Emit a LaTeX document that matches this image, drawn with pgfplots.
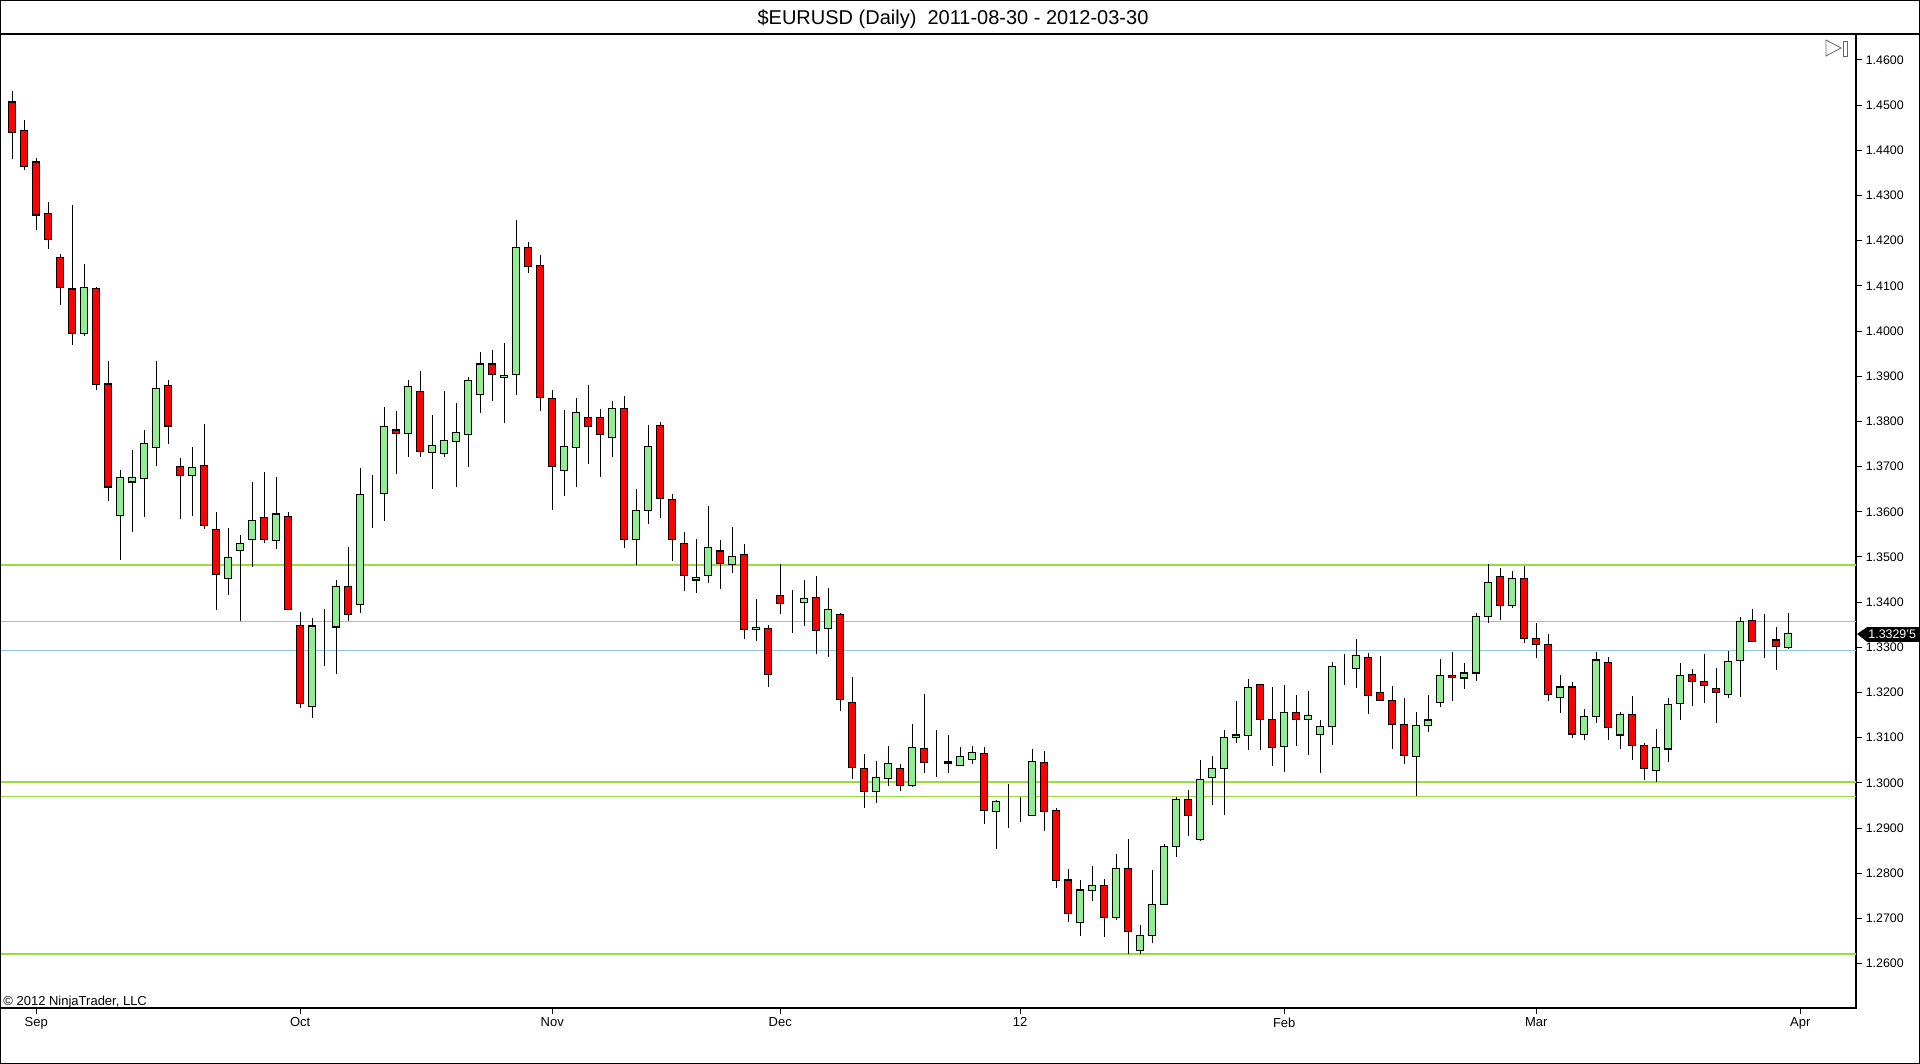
\documentclass[border=0pt]{standalone}
\usepackage{fontspec}
\setmainfont{Liberation Sans}
\usepackage{pgfplots}
\usepackage{pgfplotstable}
\pgfplotsset{compat=1.18}
\definecolor{upgreen}{RGB}{144,238,144}
\definecolor{dnred}{RGB}{255,0,0}
\definecolor{lvlgreen}{RGB}{154,220,60}
\definecolor{lvlblue}{RGB}{140,200,225}
\pgfplotstableread{
i O H L C
0 1.4507 1.4531 1.4380 1.4439
1 1.4443 1.4467 1.4356 1.4365
2 1.4374 1.4384 1.4224 1.4257
3 1.4260 1.4286 1.4182 1.4202
4 1.4163 1.4171 1.4058 1.4096
5 1.4093 1.4279 1.3969 1.3995
6 1.3995 1.4149 1.3989 1.4096
7 1.4095 1.4097 1.3870 1.3881
8 1.3883 1.3934 1.3625 1.3655
9 1.3591 1.3692 1.3494 1.3676
10 1.3666 1.3737 1.3556 1.3676
11 1.3674 1.3781 1.3588 1.3751
12 1.3743 1.3934 1.3701 1.3873
13 1.3880 1.3892 1.3751 1.3790
14 1.3701 1.3719 1.3584 1.3681
15 1.3681 1.3744 1.3591 1.3698
16 1.3703 1.3795 1.3561 1.3569
17 1.3560 1.3600 1.3382 1.3462
18 1.3453 1.3565 1.3415 1.3498
19 1.3515 1.3549 1.3359 1.3530
20 1.3538 1.3666 1.3478 1.3580
21 1.3588 1.3689 1.3530 1.3539
22 1.3536 1.3677 1.3517 1.3595
23 1.3590 1.3599 1.3382 1.3384
24 1.3349 1.3379 1.3166 1.3175
25 1.3169 1.3366 1.3143 1.3347
26 1.3344 1.3384 1.3258 1.3344
27 1.3345 1.3449 1.3241 1.3435
28 1.3434 1.3522 1.3359 1.3373
29 1.3394 1.3697 1.3375 1.3639
30 1.3637 1.3681 1.3563 1.3637
31 1.3641 1.3831 1.3579 1.3789
32 1.3781 1.3824 1.3683 1.3774
33 1.3774 1.3892 1.3721 1.3878
34 1.3867 1.3912 1.3722 1.3734
35 1.3732 1.3814 1.3650 1.3747
36 1.3729 1.3867 1.3722 1.3758
37 1.3756 1.3840 1.3654 1.3776
38 1.3771 1.3898 1.3700 1.3891
39 1.3860 1.3954 1.3819 1.3927
40 1.3927 1.3958 1.3846 1.3904
41 1.3898 1.3974 1.3796 1.3902
42 1.3904 1.4246 1.3858 1.4185
43 1.4185 1.4197 1.4129 1.4143
44 1.4145 1.4168 1.3824 1.3853
45 1.3851 1.3870 1.3605 1.3701
46 1.3692 1.3825 1.3634 1.3745
47 1.3743 1.3851 1.3654 1.3820
48 1.3809 1.3881 1.3706 1.3789
49 1.3809 1.3827 1.3678 1.3771
50 1.3765 1.3845 1.3721 1.3829
51 1.3829 1.3856 1.3521 1.3539
52 1.3539 1.3650 1.3482 1.3603
53 1.3603 1.3792 1.3574 1.3745
54 1.3791 1.3798 1.3587 1.3630
55 1.3628 1.3639 1.3492 1.3538
56 1.3530 1.3556 1.3425 1.3459
57 1.3449 1.3539 1.3420 1.3455
58 1.3459 1.3613 1.3443 1.3521
59 1.3513 1.3538 1.3428 1.3486
60 1.3484 1.3567 1.3465 1.3501
61 1.3506 1.3529 1.3318 1.3340
62 1.3340 1.3408 1.3313 1.3344
63 1.3342 1.3349 1.3212 1.3240
64 1.3414 1.3484 1.3373 1.3397
65 1.3397 1.3426 1.3331 1.3397
66 1.3400 1.3450 1.3348 1.3408
67 1.3411 1.3458 1.3285 1.3338
68 1.3341 1.3431 1.3279 1.3384
69 1.3373 1.3375 1.3160 1.3185
70 1.3178 1.3235 1.3008 1.3034
71 1.3032 1.3064 1.2944 1.2981
72 1.2981 1.3049 1.2955 1.3012
73 1.3010 1.3082 1.2993 1.3043
74 1.3032 1.3042 1.2981 1.2995
75 1.2995 1.3130 1.2990 1.3079
76 1.3076 1.3197 1.3023 1.3045
77 1.3047 1.3117 1.3014 1.3047
78 1.3048 1.3106 1.3023 1.3044
79 1.3039 1.3079 1.3039 1.3058
80 1.3052 1.3082 1.3041 1.3068
81 1.3065 1.3079 1.2910 1.2938
82 1.2936 1.2962 1.2854 1.2958
83 1.2955 1.2997 1.2901 1.2955
84 1.2931 1.2969 1.2914 1.2931
85 1.2928 1.3075 1.2928 1.3048
86 1.3045 1.3071 1.2894 1.2936
87 1.2938 1.2944 1.2767 1.2784
88 1.2785 1.2809 1.2693 1.2711
89 1.2691 1.2784 1.2662 1.2763
90 1.2762 1.2817 1.2739 1.2773
91 1.2773 1.2787 1.2658 1.2702
92 1.2702 1.2843 1.2696 1.2811
93 1.2811 1.2876 1.2621 1.2671
94 1.2629 1.2685 1.2621 1.2662
95 1.2662 1.2807 1.2645 1.2731
96 1.2731 1.2865 1.2731 1.2860
97 1.2860 1.2969 1.2835 1.2964
98 1.2964 1.2984 1.2883 1.2927
99 1.2875 1.3051 1.2872 1.3008
100 1.3012 1.3060 1.2950 1.3032
101 1.3032 1.3117 1.2928 1.3101
102 1.3101 1.3181 1.3088 1.3106
103 1.3105 1.3230 1.3073 1.3211
104 1.3218 1.3220 1.3073 1.3141
105 1.3141 1.3213 1.3037 1.3079
106 1.3081 1.3217 1.3023 1.3156
107 1.3156 1.3194 1.3082 1.3141
108 1.3141 1.3203 1.3062 1.3149
109 1.3107 1.3139 1.3023 1.3125
110 1.3125 1.3267 1.3084 1.3258
111 1.3256 1.3285 1.3217 1.3256
112 1.3253 1.3318 1.3211 1.3282
113 1.3278 1.3287 1.3152 1.3194
114 1.3200 1.3281 1.3182 1.3182
115 1.3183 1.3214 1.3075 1.3130
116 1.3130 1.3187 1.3041 1.3061
117 1.3058 1.3156 1.2971 1.3127
118 1.3127 1.3194 1.3112 1.3139
119 1.3178 1.3274 1.3169 1.3238
120 1.3238 1.3289 1.3182 1.3234
121 1.3232 1.3265 1.3207 1.3243
122 1.3243 1.3375 1.3226 1.3368
123 1.3369 1.3484 1.3353 1.3444
124 1.3457 1.3476 1.3361 1.3393
125 1.3393 1.3468 1.3386 1.3453
126 1.3453 1.3480 1.3310 1.3320
127 1.3320 1.3353 1.3277 1.3307
128 1.3307 1.3329 1.3182 1.3196
129 1.3189 1.3239 1.3155 1.3212
130 1.3212 1.3223 1.3100 1.3108
131 1.3107 1.3163 1.3095 1.3147
132 1.3147 1.3289 1.3132 1.3272
133 1.3267 1.3278 1.3095 1.3122
134 1.3106 1.3156 1.3074 1.3152
135 1.3151 1.3193 1.3050 1.3082
136 1.3082 1.3089 1.3007 1.3031
137 1.3028 1.3119 1.3002 1.3078
138 1.3075 1.3187 1.3047 1.3173
139 1.3175 1.3265 1.3139 1.3238
140 1.3240 1.3252 1.3170 1.3224
141 1.3224 1.3285 1.3176 1.3215
142 1.3209 1.3254 1.3132 1.3200
143 1.3196 1.3291 1.3187 1.3269
144 1.3271 1.3367 1.3190 1.3358
145 1.3359 1.3385 1.3313 1.3313
146 1.3316 1.3374 1.3276 1.3316
147 1.3316 1.3345 1.3250 1.3301
148 1.3299 1.3376 1.3296 1.3330
}\candles
\pgfplotsset{
  chartbase/.style={
    at={(0pt,28pt)}, anchor=south west,
    scale only axis, width=928pt, height=487pt,
    xmin=-1.0167, xmax=153.65, ymin=1.25017, ymax=1.46575,
  }
}
\begin{document}
\begin{tikzpicture}
\useasboundingbox (0,0) rectangle (960pt,532pt);
\fill[white] (0,0) rectangle (960pt,532pt);
\begin{axis}[chartbase,
  axis line style={black, line width=0.6pt},
  tick style={black, line width=0.5pt},
  tick align=outside, major tick length=3.2pt,
  xtick pos=lower, ytick pos=right, yticklabel pos=right,
  xtick={2,24,45,64,84,106,127,149},
  xticklabels={Sep,Oct,Nov,Dec,12,Feb,Mar,Apr},
  ytick={1.26,1.27,1.28,1.29,1.30,1.31,1.32,1.33,1.34,1.35,1.36,1.37,1.38,1.39,1.40,1.41,1.42,1.43,1.44,1.45,1.46},
  /pgf/number format/.cd, fixed, fixed zerofill, precision=4, assume math mode=true, /pgfplots/.cd,
  yticklabel style={font=\fontsize{6.2}{7}\selectfont, anchor=west, inner sep=1pt, xshift=0.5pt},
  xticklabel style={font=\fontsize{6.5}{7.5}\selectfont, inner sep=1pt, yshift=-0.5pt},
]
\addplot[lvlgreen, line width=0.6pt, forget plot] coordinates {(-5,1.3482) (160,1.3482)};
\addplot[lvlblue, line width=0.6pt, forget plot] coordinates {(-5,1.3358) (160,1.3358)};
\addplot[lvlblue, line width=0.6pt, forget plot] coordinates {(-5,1.3293) (160,1.3293)};
\addplot[lvlgreen, line width=0.6pt, forget plot] coordinates {(-5,1.3002) (160,1.3002)};
\addplot[lvlgreen, line width=0.6pt, forget plot] coordinates {(-5,1.2970) (160,1.2970)};
\addplot[lvlgreen, line width=0.6pt, forget plot] coordinates {(-5,1.2621) (160,1.2621)};
\addplot[draw=none, mark=none, forget plot,
  error bars/.cd, y dir=both, y explicit, error mark=none,
  error bar style={draw=black, line width=0.7pt}]
  table[x=i, y expr={(\thisrow{H}+\thisrow{L})/2}, y error expr={(\thisrow{H}-\thisrow{L})/2}] {\candles};
\end{axis}
\begin{axis}[chartbase, hide axis, ybar stacked, bar width=0.6]
\addplot[draw=none, fill=none] table[x=i, y expr={min(\thisrow{O},\thisrow{C})}] {\candles};
\addplot[draw=black, line width=0.6pt, fill=upgreen] table[x=i, y expr={max(\thisrow{C}-\thisrow{O},0)}] {\candles};
\addplot[draw=black, line width=0.6pt, fill=dnred] table[x=i, y expr={max(\thisrow{O}-\thisrow{C},0)}] {\candles};
\end{axis}
% title and separator
\draw[black, line width=0.6pt] (0,515pt) -- (960pt,515pt);
\node[anchor=base, inner sep=0pt, font=\fontsize{10}{12}\selectfont] at (476.5pt,519.5pt) {\$EURUSD (Daily)\ \ 2011-08-30 - 2012-03-30};
% copyright
\node[anchor=base west, inner sep=0pt, font=\fontsize{6.5}{7.5}\selectfont] at (1.5pt,29.2pt) {\textcopyright{} 2012 NinjaTrader, LLC};
% last price marker
\fill[black] (928.5pt,215pt) -- (933.5pt,218.4pt) -- (960pt,218.4pt) -- (960pt,211.1pt) -- (933.5pt,211.1pt) -- cycle;
\node[anchor=west, inner sep=0pt, text=white, font=\fontsize{6.2}{7}\selectfont] at (934pt,214.8pt) {1.3329'5};
% icon
\draw[gray!80!black, line width=0.4pt] (913pt,512pt) -- (913pt,504pt) -- (920.5pt,508pt) -- cycle;
\draw[gray!80!black, line width=0.4pt] (921.5pt,511.5pt) rectangle (923.5pt,504pt);
% outer frame
\draw[black, line width=0.6pt] (0.3pt,0.3pt) rectangle (959.7pt,531.7pt);
\end{tikzpicture}
\end{document}
